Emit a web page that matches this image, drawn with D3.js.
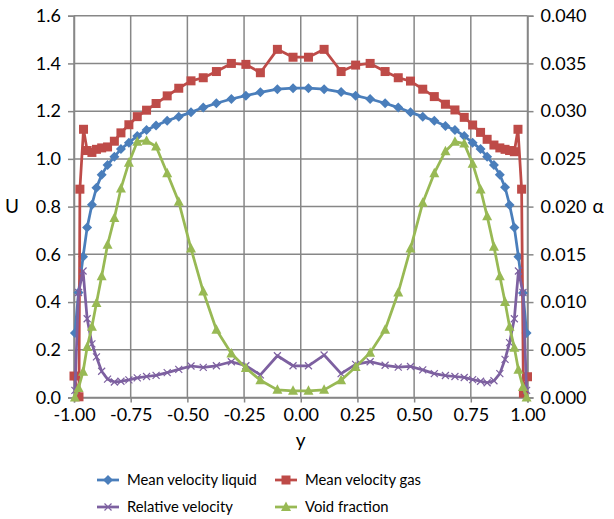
<!DOCTYPE html>
<html lang="en">
<head>
  <meta charset="UTF-8">
  <title>Velocity and void fraction profiles</title>
  <script src="https://cdn.jsdelivr.net/npm/d3@7"></script>
  <style>
    body { margin: 0; background: #fff; }
    text { font-family: Lato, "Open Sans", sans-serif; fill: #000; }
  </style>
</head>
<body>

  <script>
    ((window, document) => {
      "use strict";

      /**
       * -----------------------------------------------------------------------
       *  Data
       * -----------------------------------------------------------------------
       */
      const Y_POS = [
        -0.996, -0.980, -0.960, -0.942, -0.921, -0.901, -0.878, -0.852,
        -0.822, -0.793, -0.758, -0.721, -0.680, -0.638, -0.589, -0.538,
        -0.484, -0.430, -0.372, -0.306, -0.242, -0.178, -0.103, -0.034,
         0.034,  0.103,  0.178,  0.242,  0.306,  0.372,  0.430,  0.484,
         0.538,  0.589,  0.638,  0.680,  0.721,  0.758,  0.793,  0.822,
         0.852,  0.878,  0.901,  0.921,  0.942,  0.960,  0.980,  0.996,
      ];
      // gas profile has one extra near-wall point on each side
      const Y_POS_GAS = [
        -1.000, -0.978, -0.974, -0.958, -0.942, -0.921, -0.901, -0.878, -0.852,
        -0.822, -0.793, -0.758, -0.721, -0.680, -0.638, -0.589, -0.538,
        -0.484, -0.430, -0.372, -0.306, -0.242, -0.178, -0.103, -0.034,
         0.034,  0.103,  0.178,  0.242,  0.306,  0.372,  0.430,  0.484,
         0.538,  0.589,  0.638,  0.680,  0.721,  0.758,  0.793,  0.822,
         0.852,  0.878,  0.901,  0.921,  0.942,  0.958,  0.974,  0.982,  1.000,
      ];
      const U_LIQUID = [
        0.270, 0.440, 0.590, 0.712, 0.808, 0.879, 0.933, 0.974,
        1.009, 1.041, 1.068, 1.096, 1.121, 1.140, 1.160, 1.177,
        1.195, 1.215, 1.233, 1.251, 1.265, 1.279, 1.292, 1.296,
        1.296, 1.292, 1.280, 1.265, 1.251, 1.233, 1.215, 1.195,
        1.177, 1.160, 1.138, 1.121, 1.096, 1.068, 1.041, 1.009,
        0.974, 0.933, 0.881, 0.807, 0.712, 0.590, 0.438, 0.270,
      ];
      const U_GAS = [
        0.090, 0.003, 0.873, 1.124, 1.035, 1.027, 1.040, 1.046, 1.050,
        1.074, 1.109, 1.143, 1.177, 1.204, 1.232, 1.264, 1.296,
        1.327, 1.340, 1.366, 1.400, 1.396, 1.361, 1.459, 1.426,
        1.426, 1.459, 1.366, 1.393, 1.400, 1.366, 1.340, 1.326,
        1.292, 1.261, 1.229, 1.205, 1.174, 1.142, 1.111, 1.082,
        1.058, 1.046, 1.040, 1.035, 1.030, 1.124, 0.873, 0.018, 0.087,
      ];
      const U_RELATIVE = [
        0.030, 0.440, 0.530, 0.330, 0.225, 0.170, 0.110, 0.077,
        0.065, 0.068, 0.074, 0.082, 0.088, 0.093, 0.104, 0.118,
        0.132, 0.126, 0.133, 0.150, 0.133, 0.095, 0.175, 0.133,
        0.133, 0.178, 0.100, 0.139, 0.150, 0.135, 0.127, 0.130,
        0.116, 0.100, 0.092, 0.088, 0.084, 0.075, 0.068, 0.062,
        0.070, 0.100, 0.160, 0.230, 0.330, 0.530, 0.440, 0.030,
      ];
      const VOID_FRACTION = [
        0.0000, 0.0010, 0.0027, 0.0053, 0.0074, 0.0099, 0.0127, 0.0160,
        0.0188, 0.0219, 0.0246, 0.0268, 0.0269, 0.0263, 0.0235, 0.0205,
        0.0156, 0.0111, 0.0071, 0.0046, 0.0031, 0.0018, 0.0008, 0.0007,
        0.0007, 0.0008, 0.0018, 0.0032, 0.0047, 0.0071, 0.0110, 0.0156,
        0.0204, 0.0235, 0.0258, 0.0268, 0.0266, 0.0245, 0.0218, 0.0190,
        0.0158, 0.0127, 0.0100, 0.0074, 0.0052, 0.0029, 0.0011, 0.0000,
      ];

      const X_TICKS = [-1, -0.75, -0.5, -0.25, 0, 0.25, 0.5, 0.75, 1];
      const U_TICKS = [0, 0.2, 0.4, 0.6, 0.8, 1.0, 1.2, 1.4, 1.6];
      const A_TICKS = [0, 0.005, 0.010, 0.015, 0.020, 0.025, 0.030, 0.035, 0.040];

      const SERIES = [
        { name: "Mean velocity liquid", pos: Y_POS, values: U_LIQUID, axis: "u", color: "#4a7ebb", marker: "diamond" },
        { name: "Mean velocity gas", pos: Y_POS_GAS, values: U_GAS, axis: "u", color: "#be4b48", marker: "square" },
        { name: "Relative velocity", pos: Y_POS, values: U_RELATIVE, axis: "u", color: "#7d60a0", marker: "cross" },
        { name: "Void fraction", pos: Y_POS, values: VOID_FRACTION, axis: "a", color: "#98b954", marker: "triangle" },
      ];


      /**
       * -----------------------------------------------------------------------
       *  Render
       * -----------------------------------------------------------------------
       */
      const WIDTH = 614;
      const HEIGHT = 519;
      const PLOT = { left: 74, right: 527.5, top: 15.7, bottom: 397.5 };
      const GRID_COLOR = "#878787";

      let svg = d3.select("body").append("svg")
          .attr("width", WIDTH)
          .attr("height", HEIGHT);

      let x = d3.scaleLinear().domain([-1, 1]).range([PLOT.left, PLOT.right]);
      let yU = d3.scaleLinear().domain([0, 1.6]).range([PLOT.bottom, PLOT.top]);
      let yA = d3.scaleLinear().domain([0, 0.04]).range([PLOT.bottom, PLOT.top]);

      // grid
      svg.append("g").selectAll("line").data(U_TICKS).join("line")
          .attr("x1", PLOT.left).attr("x2", PLOT.right)
          .attr("y1", d => yU(d)).attr("y2", d => yU(d))
          .attr("stroke", GRID_COLOR).attr("stroke-width", 1.5);
      svg.append("g").selectAll("line").data(X_TICKS).join("line")
          .attr("x1", d => x(d)).attr("x2", d => x(d))
          .attr("y1", PLOT.top).attr("y2", PLOT.bottom)
          .attr("stroke", GRID_COLOR).attr("stroke-width", 1.5);

      // axes
      let xAxis = svg.append("g")
          .attr("transform", `translate(0, ${PLOT.bottom})`)
          .call(d3.axisBottom(x).tickValues(X_TICKS).tickSize(5).tickPadding(6)
              .tickFormat(d3.format(".2f")));
      let uAxis = svg.append("g")
          .attr("transform", `translate(${PLOT.left}, 0)`)
          .call(d3.axisLeft(yU).tickValues(U_TICKS).tickSize(6).tickPadding(7)
              .tickFormat(d3.format(".1f")));
      let aAxis = svg.append("g")
          .attr("transform", `translate(${PLOT.right}, 0)`)
          .call(d3.axisRight(yA).tickValues(A_TICKS).tickSize(6).tickPadding(7)
              .tickFormat(d3.format(".3f")));

      [xAxis, uAxis, aAxis].forEach(axis => {
        axis.select(".domain").attr("stroke", GRID_COLOR).attr("stroke-width", 1.5);
        axis.selectAll(".tick line").attr("stroke", GRID_COLOR).attr("stroke-width", 1.5);
        axis.selectAll("text")
            .attr("fill", "#000")
            .style("font-family", "Lato, sans-serif")
            .style("font-size", "18px");
      });
      xAxis.selectAll("text").text(d => d3.format(".2f")(d).replace("−", "-"));

      // axis titles
      svg.append("text").attr("x", 12).attr("y", 213)
          .attr("text-anchor", "middle").style("font-size", "19px").text("U");
      svg.append("text").attr("x", 598).attr("y", 213)
          .attr("text-anchor", "middle").style("font-size", "19px").text("α");
      svg.append("text").attr("x", x(0)).attr("y", 447)
          .attr("text-anchor", "middle").style("font-size", "19px").text("y");

      // series
      SERIES.forEach(s => {
        let yScale = s.axis === "u" ? yU : yA;
        let points = s.pos.map((p, i) => [x(p), yScale(s.values[i])]);
        let g = svg.append("g");
        g.append("path")
            .attr("d", d3.line()(points))
            .attr("fill", "none")
            .attr("stroke", s.color)
            .attr("stroke-width", 2.75)
            .attr("stroke-linejoin", "round");
        points.forEach(([px, py]) => drawMarker(g, s, px, py));
      });

      // legend
      const LEGEND = [
        { col: 0, row: 0 }, { col: 1, row: 0 }, { col: 0, row: 1 }, { col: 1, row: 1 },
      ];
      SERIES.forEach((s, i) => {
        let lx = [97, 275][LEGEND[i].col];
        let ly = [480, 507][LEGEND[i].row];
        let g = svg.append("g");
        g.append("line")
            .attr("x1", lx).attr("x2", lx + 22)
            .attr("y1", ly).attr("y2", ly)
            .attr("stroke", s.color).attr("stroke-width", 2.75);
        drawMarker(g, s, lx + 11, ly);
        g.append("text")
            .attr("x", lx + 30).attr("y", ly + 5)
            .style("font-size", "14.8px")
            .text(s.name);
      });


      /**
       * -----------------------------------------------------------------------
       *  Function
       * -----------------------------------------------------------------------
       */
      function drawMarker (g, s, px, py) {
        if ("diamond" === s.marker) {
          g.append("path")
              .attr("d", `M${px},${py - 5}L${px + 5},${py}L${px},${py + 5}L${px - 5},${py}Z`)
              .attr("fill", s.color);
        } else if ("square" === s.marker) {
          g.append("rect")
              .attr("x", px - 4.5).attr("y", py - 4.5)
              .attr("width", 9).attr("height", 9)
              .attr("fill", s.color);
        } else if ("triangle" === s.marker) {
          g.append("path")
              .attr("d", `M${px},${py - 5.5}L${px + 5},${py + 4}L${px - 5},${py + 4}Z`)
              .attr("fill", s.color);
        } else {
          g.append("path")
              .attr("d", `M${px - 3.5},${py - 3.5}L${px + 3.5},${py + 3.5}M${px + 3.5},${py - 3.5}L${px - 3.5},${py + 3.5}`)
              .attr("stroke", s.color).attr("stroke-width", 1.2);
        }
      }

    })(window, document);
  </script>

</body>
</html>
